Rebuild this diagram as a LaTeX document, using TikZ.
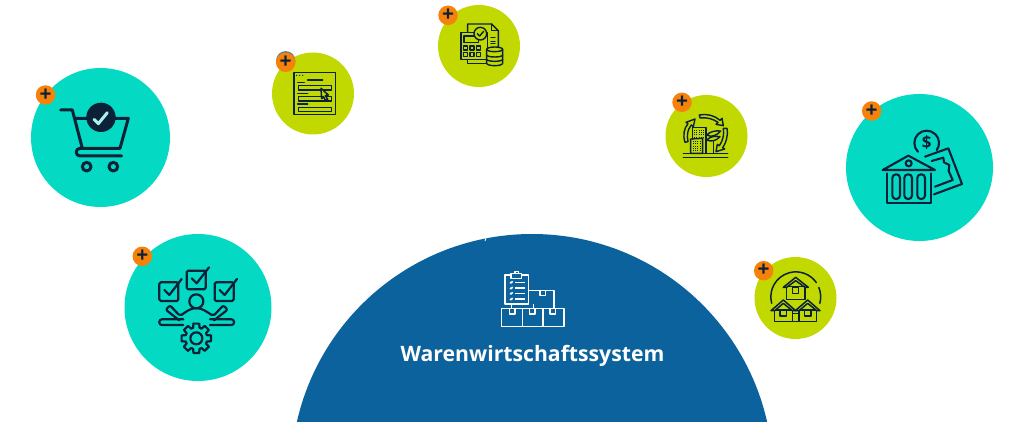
\documentclass[tikz,border=0pt]{standalone}
\usepackage{fontspec}
\setmainfont{Open Sans}
\definecolor{tealdisc}{HTML}{04D9C4}
\definecolor{limedisc}{HTML}{C1D900}
\definecolor{bluedisc}{HTML}{0C629C}
\definecolor{badgeorange}{HTML}{F6820B}
\definecolor{icondark}{HTML}{0A2138}
\tikzset{
    teal disc/.style={circle, fill=tealdisc, inner sep=0pt, minimum size=#1},
    lime disc/.style={circle, fill=limedisc, inner sep=0pt, minimum size=82pt},
    badge/.style={circle, fill=badgeorange, inner sep=0pt, minimum size=19.5pt, text=icondark, font=\fontsize{21}{21}\selectfont\bfseries},
    icon/.style={draw=icondark, line join=round, line cap=round, line width=#1},
    zoomed/.style={scale=1/3}
}
\begin{document}
\begin{tikzpicture}[x=1pt, y=-1pt]
    \useasboundingbox (0,0) rectangle (1024,422);

    % Big half disc
    \begin{scope}
        \clip (0,0) rectangle (1024,422);
        \fill[bluedisc] (532,475) circle[radius=241];
    \end{scope}
    \draw[white, line width=0.8pt] (486,238) -- (485,241);

    % Discs
    \node[teal disc=139pt] (cart) at (100.5,137.5) {};
    \node[teal disc=147pt] (tasks) at (198,307.5) {};
    \node[teal disc=147pt] (bank) at (919.5,167.5) {};
    \node[lime disc] (form) at (313,93.5) {};
    \node[lime disc] (calc) at (479,46) {};
    \node[lime disc] (city) at (706.5,136) {};
    \node[lime disc] (houses) at (795.5,298) {};

    % Badges
    \fill[icondark!60] (285.7,60.8) circle[radius=9.7];
    \node[badge] (cartplus) at (45.5,95) {+};
    \node[badge] (tasksplus) at (142.3,256.3) {+};
    \node[badge] (formplus) at (285.7,62.3) {+};
    \node[badge] (calcplus) at (448,15.3) {+};
    \node[badge] (cityplus) at (682,102.3) {+};
    \node[badge] (bankplus) at (871.7,111) {+};
    \node[badge] (housesplus) at (763.7,270.7) {+};

    % Cart
    \begin{scope}[shift={(20,70)}, zoomed, icon=3pt]
        \draw (122,120) -- (157,120) -- (187,235) -- (300,235) -- (325,145) -- (165,145);
        \draw (305,258) -- (180,258) arc[start angle=90, end angle=270, radius=11.5] -- (187,235);
        \draw (200,290) circle[radius=13];
        \draw (280,290) circle[radius=13];
        \fill[icondark] (243,142) circle[radius=44];
        \draw[tealdisc!35!white, line width=3pt] (222,148) -- (235,161) -- (262,128);
    \end{scope}

    % Tasks
    \begin{scope}[shift={(120,235)}, zoomed, icon=2.2pt]
        \foreach \bx/\by in {118/142, 200/107, 284/142} {
            \draw[rounded corners=1.5pt] (\bx,\by) rectangle ++(57,56);
            \draw (\bx+15,\by+23) -- (\bx+30,\by+38) -- (\bx+67,\by-10);
        }
        \draw (229,199) circle[radius=21];
        \draw[rounded corners=2pt] (178,256) -- (137,224) -- (150,211) -- (180,243)
            .. controls (195,232) and (212,220) .. (229,220)
            .. controls (246,220) and (263,232) .. (280,243) -- (310,211) -- (323,224) -- (282,256);
        \draw[rounded corners=2.5pt] (190,253) -- (118,253) -- (118,270) -- (190,270);
        \draw[rounded corners=2.5pt] (270,253) -- (342,253) -- (342,270) -- (270,270);
        \begin{scope}[shift={(229,310)}]
            \foreach \a in {0,45,...,315} {
                \draw (\a-11:45) -- (\a+11:45) -- (\a+17:33) -- (\a+28:33) -- (\a+34:45);
            }
            \draw (0,0) circle[radius=18];
        \end{scope}
    \end{scope}

    % Form
    \begin{scope}[shift={(265,0)}, zoomed, icon=1.5pt]
        \draw (87,217) rectangle (212,344);
        \foreach \dotx in {95,104,113} { \fill[icondark] (\dotx,226) circle[radius=2]; }
        \draw (128,240) -- (173,240);
        \foreach \liney/\linex in {248/118, 280/128, 312/128} { \draw (98,\liney) -- (\linex,\liney); }
        \draw (100,256) rectangle (200,270);
        \draw (100,290) rectangle (200,303);
        \draw (100,322) rectangle (200,335);
        \draw[fill=limedisc] (168,265) -- (190,285) -- (181,287) -- (188,298) -- (181,301) -- (175,290) -- (170,296) -- cycle;
    \end{scope}

    % Calculator
    \begin{scope}[shift={(265,0)}, zoomed, icon=1.4pt]
        \draw (608,97) -- (608,72) -- (680,72) -- (700,92) -- (700,142);
        \draw (680,72) -- (680,92) -- (700,92);
        \draw (608,178) -- (608,190) -- (665,190);
        \draw[fill=limedisc] (588,97) rectangle (668,178);
        \draw (597,108) rectangle (640,128);
        \foreach \keyx in {596,615,634} {
            \foreach \keyy in {138,157} { \draw (\keyx,\keyy) rectangle ++(12,12); }
        }
        \draw[fill=limedisc] (646,101) circle[radius=19];
        \draw (637,101) -- (644,108) -- (656,94);
        \foreach \liney in {113,124,130} { \draw (678,\liney) -- (690,\liney); }
        \draw[fill=limedisc] (665,148) -- (665,190) arc[start angle=180, end angle=0, x radius=24, y radius=7] -- (713,148);
        \draw[fill=limedisc] (689,148) circle[x radius=24, y radius=7];
        \draw (665,165) arc[start angle=180, end angle=0, x radius=24, y radius=6];
        \draw (665,178) arc[start angle=180, end angle=0, x radius=24, y radius=6];
    \end{scope}

    % City
    \begin{scope}[shift={(660,85)}, zoomed, icon=1.4pt]
        \draw (70,205) -- (203,205);
        \draw (70,217) -- (203,217);
        \draw (97,162) -- (97,128) -- (138,128) -- (138,205);
        \draw (128,160) -- (128,205) -- (92,205) -- (92,162) -- cycle;
        \foreach \wx in {102,109,116,123,130} {
            \foreach \wy in {134,141,148,155} { \fill[icondark] (\wx,\wy) rectangle ++(3,3); }
        }
        \foreach \wx in {98,105,112,119} {
            \foreach \wy in {168,175,182,189,196} { \fill[icondark] (\wx,\wy) rectangle ++(3,3); }
        }
        \draw (140,205) -- (140,140);
        \draw (160,205) -- (160,170);
        \draw (140,150) .. controls (155,158) and (170,152) .. (182,138) .. controls (165,136) and (150,140) .. (140,150);
        \draw (140,165) .. controls (155,172) and (170,166) .. (180,155) .. controls (165,152) and (150,155) .. (140,165);
        % turning arrows
        \draw (118,90) .. controls (140,85) and (165,92) .. (180,106) -- (186,100) -- (190,122) -- (168,118) -- (174,112)
            .. controls (160,102) and (140,96) .. (120,99) -- cycle;
        \draw (75,172) .. controls (68,150) and (72,130) .. (84,116) -- (78,112) -- (105,102) -- (100,125) -- (94,120)
            .. controls (82,135) and (80,150) .. (84,170) -- cycle;
        \draw (190,130) -- (201,130) .. controls (205,155) and (197,175) .. (188,188) -- (194,192) -- (168,200) -- (172,178) -- (178,182)
            .. controls (188,168) and (193,150) .. (190,130);
    \end{scope}

    % Bank
    \begin{scope}[shift={(660,85)}, zoomed, icon=2.1pt]
        \draw (668,255) -- (745,212) -- (825,255) -- cycle;
        \draw (746,235) circle[radius=9];
        \draw (682,265) -- (682,355) -- (812,355) -- (812,265);
        \foreach \colx in {697,733,772} {
            \draw[rounded corners=3.5pt] (\colx,268) rectangle ++(23,74);
        }
        \draw (800,174) ++(135:37) arc[start angle=135, end angle=395, radius=37];
        \node[text=icondark, font=\fontsize{17}{17}\selectfont\bfseries] (dollar) at (800,174) {\$};
        \draw (795,215) -- (865,190) -- (906,297) -- (822,328);
        \draw (815,228) -- (850,218) -- (852,232) -- (868,240) -- (866,258) -- (878,285) -- (825,305);
    \end{scope}

    % Houses
    \begin{scope}[shift={(745,250)}, zoomed, icon=1.5pt]
        \draw (80,160) arc[start angle=165, end angle=325, radius=75];
        \draw (152,140.6) ++(338:75) arc[start angle=338, end angle=375, radius=75];
        \draw[fill=limedisc] (125,110) rectangle (180,148);
        \draw[fill=limedisc] (115,112) -- (152,82) -- (190,112) -- (180,112) -- (152,92) -- (125,112) -- cycle;
        \draw (143,112) rectangle (161,130);
        \draw (142,190) rectangle (162,215);
        \foreach \hx in {115,188} {
            \draw[fill=limedisc] (\hx-26,180) rectangle (\hx+27,215);
            \draw[fill=limedisc] (\hx-37,182) -- (\hx,150) -- (\hx+37,182) -- (\hx+27,182) -- (\hx,160) -- (\hx-26,182) -- cycle;
            \draw (\hx-10,178) rectangle (\hx+10,198);
        }
    \end{scope}

    % Warehouse
    \begin{scope}[shift={(390,230)}, zoomed, draw=white, line width=1.6pt, line join=round]
        \draw (345,135) rectangle (415,222);
        \draw[fill=bluedisc] (363,131) rectangle (395,146);
        \draw (375,131) -- (375,124) -- (385,124) -- (385,131);
        \foreach \liney in {157,174,190,207} {
            \draw (360,\liney) -- (363,\liney+2) -- (368,\liney-3);
            \draw (375,\liney) -- (405,\liney);
        }
        \draw (365,222) -- (365,236);
        \draw (415,182) -- (492,182) -- (492,236);
        \draw (430,222) -- (430,236);
        \draw (450,182) -- (450,196) -- (466,196) -- (466,182);
        \draw (335,236) rectangle (522,290);
        \draw (397,236) -- (397,290);
        \draw (459,236) -- (459,290);
        \foreach \tabx in {359,419,480} {
            \draw (\tabx,236) -- (\tabx,252) -- (\tabx+16,252) -- (\tabx+16,236);
        }
    \end{scope}

    % Title
    \node[text=white, font=\fontsize{21.2}{21}\selectfont\bfseries] (title) at (532.5,355.5) {Warenwirtschaftssystem};

\end{tikzpicture}
\end{document}
